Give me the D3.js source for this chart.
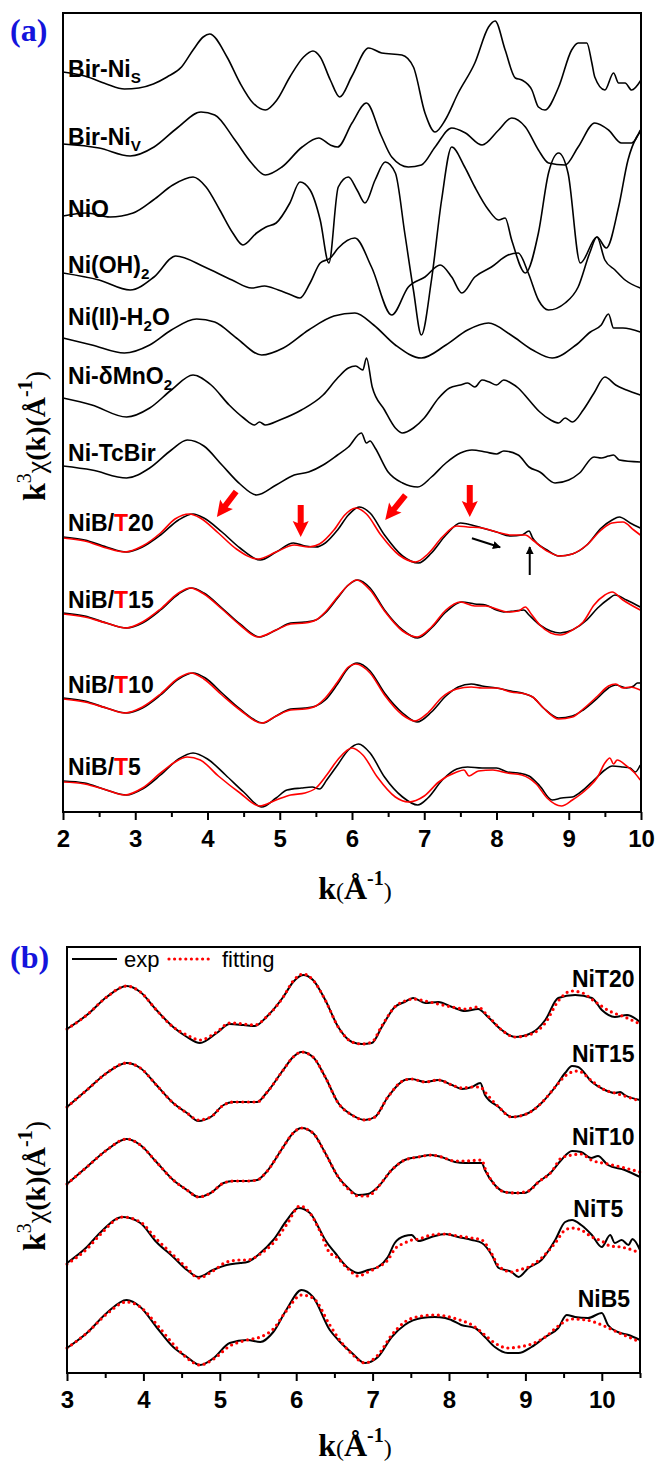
<!DOCTYPE html>
<html>
<head>
<meta charset="utf-8">
<script src="https://cdn.jsdelivr.net/npm/d3@7"></script>
<style>
  body { margin: 0; background: #fff; }
</style>
</head>
<body>
<svg id="chart" width="655" height="1464"></svg>
<script>
// ---- panel (a) data: k (1/A) and k3chi relative to each curve's offset ----
const kTicksA = [2, 3, 4, 5, 6, 7, 8, 9, 10];
const kMinorA = [2.5, 3.5, 4.5, 5.5, 6.5, 7.5, 8.5, 9.5];

const namesA = [
  [["Bir-Ni"], ["S", "sub"]],
  [["Bir-Ni"], ["V", "sub"]],
  [["NiO"]],
  [["Ni(OH)"], ["2", "sub"]],
  [["Ni(II)-H"], ["2", "sub"], ["O"]],
  [["Ni-δMnO"], ["2", "sub"]],
  [["Ni-TcBir"]],
  [["NiB/"], ["T", "red"], ["20"]],
  [["NiB/"], ["T", "red"], ["15"]],
  [["NiB/"], ["T", "red"], ["10"]],
  [["NiB/"], ["T", "red"], ["5"]]
];
const offsetsA = [74.0, 66.8, 59.6, 53.9, 47.4, 41.4, 34.6, 27.5, 19.9, 11.4, 3.1];
const labelLiftA = [-0.5, -0.1, -0.1, 0, 1.3, 1.4, 0.5, 0.6, 0.5, 0.5, 0.6];

const birNiS = [[2.00,0],[2.30,-0.4],[2.60,-1.2],[2.85,-1.7],[3.05,-1.6],[3.25,-1.2],[3.44,-0.5],[3.64,0.5],[3.80,2.2],[3.94,3.5],[4.03,3.8],[4.27,1.5],[4.45,-1.1],[4.63,-3.1],[4.80,-3.8],[4.96,-2.8],[5.14,-0.5],[5.33,1.5],[5.46,2.1],[5.56,1.5],[5.70,-0.8],[5.83,-2.5],[6.00,-0.4],[6.23,2.4],[6.41,1.9],[6.69,1.7],[6.85,0.5],[7.01,-4.1],[7.15,-6.0],[7.29,-4.8],[7.47,-2.1],[7.70,0.9],[7.89,4.5],[7.98,5.1],[8.12,2.2],[8.26,-0.6],[8.35,-0.8],[8.49,-1.8],[8.58,-3.5],[8.67,-3.8],[8.86,-1.5],[9.04,2.2],[9.13,2.9],[9.25,2.9],[9.32,0.9],[9.36,-0.5],[9.50,-1.8],[9.62,-0.1],[9.69,-1.1],[9.78,-1.1],[9.87,-1.8],[10.0,-0.8]];
const birNiV = [[2.00,0],[2.50,-0.4],[2.93,-1.2],[3.26,-0.3],[3.58,1.6],[3.91,3.2],[4.10,2.9],[4.38,0.4],[4.61,-1.9],[4.80,-3.1],[5.03,-2.3],[5.31,-0.3],[5.54,0.6],[5.70,-0.1],[5.80,-0.3],[6.00,2.1],[6.20,4.1],[6.40,0.9],[6.55,-1.3],[6.78,-2.3],[6.96,-2.1],[7.15,-0.3],[7.38,1.6],[7.57,1.1],[7.80,-0.1],[8.03,1.4],[8.21,2.6],[8.40,1.7],[8.58,-0.6],[8.72,-1.9],[8.95,-2.1],[9.13,-0.3],[9.36,2.1],[9.55,1.4],[9.73,0.1],[9.87,0.1],[9.99,1.4]];
const niO = [[2.00,0],[2.32,0.3],[2.65,-0.1],[2.97,0.3],[3.25,1.6],[3.52,3.1],[3.80,3.9],[3.98,2.9],[4.17,0.6],[4.35,-1.7],[4.49,-2.9],[4.68,-1.7],[4.81,-1.1],[4.95,-0.7],[5.14,1.3],[5.28,3.4],[5.42,2.6],[5.56,-0.4],[5.68,-4.7],[5.81,2.9],[5.95,3.9],[6.07,2.6],[6.18,1.3],[6.32,3.6],[6.46,5.4],[6.60,4.3],[6.73,-1.7],[6.85,-7.4],[6.96,-11.9],[7.10,-6.4],[7.24,1.6],[7.38,6.9],[7.56,4.9],[7.70,2.9],[7.89,0.6],[8.03,-0.4],[8.12,-0.2],[8.21,-2.4],[8.40,-5.7],[8.58,-1.7],[8.72,4.3],[8.86,6.3],[8.99,4.3],[9.16,-4.7],[9.39,-2.1],[9.52,-3.2],[9.69,0.9],[9.82,5.6],[9.94,7.9],[9.99,8.4]];
const niOH2 = [[2.00,0],[2.50,-0.7],[2.93,-1.7],[3.26,-0.4],[3.56,1.7],[3.96,0.6],[4.34,-0.7],[4.61,-1.5],[4.79,-1.3],[4.98,-1.7],[5.16,-2.2],[5.28,-2.5],[5.42,-1.0],[5.56,1.0],[5.70,1.5],[5.81,2.5],[6.04,3.5],[6.27,0.6],[6.55,-4.2],[6.78,-1.4],[7.01,-0.4],[7.22,0.8],[7.38,-0.4],[7.52,-2.0],[7.70,-0.4],[7.93,0.6],[8.16,1.8],[8.30,2.0],[8.44,0],[8.58,-2.7],[8.72,-3.7],[8.95,-3.0],[9.13,-1.4],[9.29,2.0],[9.39,3.6],[9.50,1.3],[9.64,0.3],[9.78,-0.7],[9.99,-1.5]];
const niH2O = [[2.00,0],[2.40,-0.7],[2.85,-1.5],[3.20,-0.7],[3.50,0.8],[3.85,1.9],[4.10,1.6],[4.40,0],[4.75,-1.7],[5.05,-1.0],[5.40,0.8],[5.75,2.2],[6.04,2.5],[6.30,1.3],[6.60,-0.7],[6.96,-2.0],[7.30,-0.7],[7.60,0.8],[7.89,1.5],[8.20,0.3],[8.50,-1.2],[8.77,-2.0],[9.10,-0.7],[9.30,0.6],[9.45,1.3],[9.55,2.4],[9.62,1.0],[9.75,1.0],[9.99,0.6]];
const niMnO2 = [[2.00,0],[2.40,-0.7],[2.88,-1.9],[3.20,-1.0],[3.50,0.8],[3.80,2.3],[4.05,1.3],[4.30,-0.7],[4.50,-2.0],[4.65,-2.7],[4.72,-2.4],[4.80,-2.7],[5.00,-2.2],[5.30,-1.2],[5.60,0.3],[5.80,2.0],[5.95,3.0],[6.05,3.2],[6.15,2.8],[6.20,4.0],[6.28,1.1],[6.45,-1.2],[6.60,-3.0],[6.70,-3.5],[6.85,-3.0],[7.00,-2.0],[7.20,0],[7.35,1.0],[7.50,1.3],[7.60,1.5],[7.70,1.1],[7.80,1.8],[7.90,1.6],[8.00,1.3],[8.10,1.8],[8.20,1.5],[8.30,1.0],[8.45,-0.2],[8.60,-1.4],[8.75,-2.2],[8.86,-2.5],[8.95,-2.0],[9.05,-2.4],[9.20,-1.2],[9.35,0.5],[9.50,2.1],[9.65,1.3],[9.80,0.8],[9.99,0.3]];
const niTcBir = [[2.00,0],[2.40,-0.4],[2.88,-1.2],[3.20,-0.2],[3.50,1.6],[3.72,2.6],[3.95,2.0],[4.20,0.1],[4.45,-1.8],[4.68,-2.9],[4.95,-1.9],[5.20,-0.9],[5.40,-0.6],[5.60,0.1],[5.80,1.1],[5.95,1.9],[6.13,3.3],[6.20,2.3],[6.25,2.5],[6.32,1.8],[6.50,-0.6],[6.70,-1.7],[6.91,-2.1],[7.10,-1.1],[7.30,0.3],[7.50,1.3],[7.66,1.6],[7.85,1.4],[8.00,1.2],[8.10,1.5],[8.30,1.1],[8.45,-0.1],[8.60,-0.6],[8.81,-1.7],[9.00,-1.4],[9.15,-0.7],[9.35,0.9],[9.45,0.8],[9.55,1.0],[9.62,1.1],[9.70,0.6],[9.99,0.4]];
const nibT20 = [[2.0,0],[2.3,-0.3],[2.6,-1.0],[2.88,-1.5],[3.1,-1.0],[3.35,0.2],[3.6,1.7],[3.8,2.3],[3.95,1.9],[4.2,0.5],[4.45,-1.1],[4.73,-2.3],[4.95,-1.5],[5.19,-0.6],[5.35,-0.9],[5.5,-1.0],[5.63,-0.6],[5.8,0.7],[5.95,2.2],[6.1,3.0],[6.25,2.4],[6.45,0.2],[6.7,-1.9],[6.92,-2.6],[7.1,-1.6],[7.3,0.2],[7.5,1.4],[7.6,1.3],[7.8,0.9],[8.0,0.5],[8.2,0.1],[8.35,0.2],[8.45,0.6],[8.5,-0.1],[8.7,-1.3],[8.86,-1.9],[9.05,-1.7],[9.25,-0.8],[9.45,0.9],[9.6,1.7],[9.7,2.0],[9.85,1.4],[9.99,0.9]];
const fitT20 = [[2.0,-0.1],[2.3,-0.4],[2.6,-1.1],[2.85,-1.5],[3.1,-0.9],[3.35,0.4],[3.55,1.8],[3.75,2.3],[3.9,1.9],[4.15,0.4],[4.4,-1.2],[4.7,-2.2],[4.95,-1.5],[5.2,-0.8],[5.4,-1.0],[5.55,-0.7],[5.75,0.7],[5.9,2.2],[6.05,2.9],[6.2,2.3],[6.4,0.2],[6.65,-1.8],[6.88,-2.5],[7.05,-1.7],[7.25,0],[7.45,1.1],[7.6,1.0],[7.8,0.9],[8.0,0.5],[8.2,0.2],[8.4,0.2],[8.5,-0.3],[8.7,-1.4],[8.88,-1.9],[9.05,-1.7],[9.25,-0.8],[9.45,0.7],[9.6,1.4],[9.75,1.5],[9.9,0.7],[9.99,0.2]];
const nibT15 = [[2.0,0],[2.3,-0.3],[2.6,-1.0],[2.88,-1.5],[3.1,-1.0],[3.35,0.3],[3.6,1.9],[3.78,2.5],[3.95,2.0],[4.2,0.5],[4.45,-1.1],[4.72,-2.4],[4.95,-1.7],[5.15,-1.0],[5.35,-0.9],[5.5,-0.7],[5.63,0],[5.8,1.5],[5.95,2.8],[6.08,3.3],[6.25,2.5],[6.45,0.3],[6.7,-1.7],[6.91,-2.5],[7.1,-1.5],[7.3,0.1],[7.52,1.1],[7.7,0.9],[7.85,0.8],[8.0,0.3],[8.1,0.1],[8.25,0.2],[8.38,0.3],[8.45,-0.2],[8.6,-1.2],[8.75,-1.8],[8.88,-2.0],[9.05,-1.7],[9.25,-0.7],[9.4,0.5],[9.55,1.4],[9.64,1.8],[9.8,1.3],[9.99,0.6]];
const fitT15 = [[2.0,-0.1],[2.3,-0.4],[2.6,-1.0],[2.87,-1.5],[3.1,-0.9],[3.35,0.4],[3.6,2.0],[3.76,2.5],[3.95,1.9],[4.2,0.4],[4.45,-1.2],[4.7,-2.4],[4.95,-1.7],[5.15,-1.1],[5.35,-1.0],[5.5,-0.7],[5.63,0.1],[5.8,1.6],[5.95,2.8],[6.06,3.3],[6.25,2.3],[6.45,0.2],[6.7,-1.8],[6.9,-2.4],[7.1,-1.4],[7.3,0.3],[7.5,1.1],[7.7,0.7],[7.85,0.7],[8.0,0.4],[8.15,0.1],[8.3,0.2],[8.4,0.6],[8.48,-0.1],[8.6,-1.2],[8.75,-2.0],[8.88,-2.2],[9.05,-1.7],[9.2,-0.9],[9.35,0.8],[9.5,1.8],[9.6,2.1],[9.75,1.3],[9.99,0.3]];
const nibT10 = [[2.0,0],[2.3,-0.3],[2.6,-1.0],[2.88,-1.5],[3.1,-1.0],[3.35,0.3],[3.6,1.9],[3.8,2.5],[3.97,2.0],[4.2,0.5],[4.45,-1.1],[4.77,-2.5],[4.95,-1.8],[5.15,-1.1],[5.35,-1.0],[5.5,-0.8],[5.63,-0.2],[5.8,1.4],[5.95,3.0],[6.07,3.5],[6.25,2.7],[6.45,0.5],[6.7,-1.5],[6.9,-2.4],[7.1,-1.4],[7.3,0.2],[7.47,1.1],[7.65,1.4],[7.8,1.2],[8.0,1.0],[8.2,0.7],[8.4,0.4],[8.5,0.1],[8.65,-1.0],[8.86,-2.0],[9.05,-1.8],[9.2,-1.2],[9.4,0],[9.55,1.0],[9.65,1.3],[9.8,1.0],[9.9,1.2],[9.95,1.5],[9.99,1.5]];
const fitT10 = [[2.0,-0.1],[2.3,-0.4],[2.6,-1.0],[2.85,-1.5],[3.1,-0.9],[3.35,0.4],[3.6,2.0],[3.77,2.5],[3.95,1.9],[4.2,0.3],[4.45,-1.2],[4.75,-2.5],[4.95,-1.8],[5.15,-1.2],[5.35,-1.1],[5.5,-0.8],[5.63,0],[5.8,1.6],[5.95,3.1],[6.05,3.4],[6.25,2.5],[6.45,0.3],[6.7,-1.7],[6.87,-2.3],[7.05,-1.5],[7.25,0.1],[7.45,0.9],[7.65,1.1],[7.8,1.0],[8.0,1.0],[8.2,0.6],[8.4,0.4],[8.5,0.1],[8.65,-1.0],[8.86,-2.1],[9.05,-1.9],[9.2,-1.1],[9.4,0.2],[9.55,1.2],[9.65,1.4],[9.75,1.0],[9.85,1.1],[9.99,0.8]];
const nibT5 = [[2.0,0],[2.3,-0.2],[2.6,-0.9],[2.88,-1.4],[3.1,-0.8],[3.35,0.6],[3.6,2.2],[3.8,2.8],[4.0,2.2],[4.25,0.6],[4.5,-1.1],[4.75,-2.6],[4.95,-1.7],[5.1,-0.9],[5.3,-0.7],[5.45,-0.6],[5.55,-0.8],[5.65,0.1],[5.8,1.6],[5.95,3.1],[6.09,3.7],[6.25,2.8],[6.45,0.4],[6.7,-1.6],[6.91,-2.4],[7.05,-1.7],[7.25,0.1],[7.45,1.2],[7.6,1.4],[7.8,1.3],[8.0,1.3],[8.15,0.9],[8.3,0.8],[8.45,0.5],[8.6,-0.5],[8.77,-1.9],[8.9,-1.7],[9.05,-1.6],[9.2,-0.9],[9.35,0.1],[9.5,1.1],[9.6,1.5],[9.75,1.4],[9.85,1.3],[9.92,0.9],[9.99,1.6]];
const fitT5 = [[2.0,-0.1],[2.3,-0.3],[2.6,-0.9],[2.85,-1.4],[3.1,-0.7],[3.35,0.8],[3.55,1.9],[3.72,2.4],[3.9,2.1],[4.15,0.5],[4.45,-1.2],[4.72,-2.5],[4.95,-1.9],[5.15,-1.4],[5.35,-1.2],[5.5,-0.7],[5.65,0.6],[5.8,2.1],[6.0,3.3],[6.15,2.6],[6.35,0.4],[6.6,-1.6],[6.78,-2.1],[7.0,-1.5],[7.2,-0.1],[7.45,0.9],[7.55,1.1],[7.62,0.5],[7.75,1.0],[7.95,1.1],[8.15,0.8],[8.35,0.6],[8.55,-0.3],[8.7,-1.7],[8.9,-2.5],[9.05,-1.9],[9.25,-0.8],[9.4,0.4],[9.5,1.8],[9.57,2.3],[9.62,1.7],[9.67,2.1],[9.8,1.5],[9.9,0.9],[9.99,0.1]];

const seriesA = [birNiS, birNiV, niO, niOH2, niH2O, niMnO2, niTcBir, nibT20, nibT15, nibT10, nibT5];
const fitsA = [null, null, null, null, null, null, null, fitT20, fitT15, fitT10, fitT5];

// annotation arrows on NiB/T20: tip [k, value], pointing angle (deg)
const redArrows = [[4.13, 29.5, 127], [5.29, 27.5, 90], [6.46, 29.2, 129], [7.63, 29.5, 90]];
const blackArrows = [[7.66, 27.37, 8.05, 26.47], [8.46, 23.7, 8.46, 26.5]];

// ---- panel (b) data ----
const kTicksB = [3, 4, 5, 6, 7, 8, 9, 10];
const kMinorB = [3.5, 4.5, 5.5, 6.5, 7.5, 8.5, 9.5, 10.5];
const namesB = ["NiT20", "NiT15", "NiT10", "NiT5", "NiB5"];
const offsetsB = [34.4, 26.6, 18.9, 11.0, 2.5];
const labelAtB = [[10.43, 38.6], [10.43, 31.1], [10.43, 22.8], [10.28, 15.6], [10.37, 6.6]];

const expT20 = [[3.0,0],[3.26,1.4],[3.52,3.2],[3.78,4.3],[3.96,3.7],[4.17,1.9],[4.39,0.2],[4.57,-0.8],[4.74,-1.4],[4.96,-0.4],[5.13,0.5],[5.31,0.4],[5.46,0.3],[5.61,1.2],[5.83,3.2],[5.96,4.7],[6.09,5.4],[6.22,4.9],[6.38,2.9],[6.55,0.2],[6.73,-1.3],[6.86,-1.5],[6.99,-1.4],[7.12,0.2],[7.29,2.2],[7.42,2.7],[7.53,3.1],[7.69,2.6],[7.86,2.7],[8.04,2.2],[8.21,1.8],[8.38,2.0],[8.51,1.2],[8.69,-0.1],[8.86,-0.8],[9.08,-0.4],[9.26,0.9],[9.43,3.1],[9.65,3.4],[9.87,3.1],[10.0,1.9],[10.17,1.2],[10.33,1.4],[10.5,0.7]];
const fitNiT20 = [[3.0,0],[3.26,1.4],[3.52,3.2],[3.78,4.3],[3.96,3.7],[4.17,1.9],[4.39,0.2],[4.57,-0.6],[4.74,-1.1],[4.96,-0.3],[5.13,0.6],[5.31,0.5],[5.46,0.4],[5.61,1.2],[5.83,3.2],[5.96,4.8],[6.09,5.5],[6.22,4.9],[6.38,2.9],[6.55,0.2],[6.73,-1.3],[6.86,-1.5],[6.99,-1.3],[7.12,0.3],[7.29,2.2],[7.42,2.8],[7.53,3.0],[7.69,2.8],[7.86,2.5],[8.04,2.2],[8.21,2.0],[8.38,2.2],[8.51,1.3],[8.69,-0.1],[8.86,-0.8],[9.08,-0.5],[9.26,0.6],[9.43,2.8],[9.6,3.8],[9.75,3.6],[9.9,2.8],[10.1,1.8],[10.3,1.2],[10.5,0.5]];
const expT15 = [[3.0,0],[3.26,1.7],[3.52,3.4],[3.78,4.4],[3.96,3.9],[4.17,2.2],[4.39,0.4],[4.57,-0.6],[4.72,-1.4],[4.88,-1.0],[5.05,0.2],[5.18,0.5],[5.36,0.5],[5.49,0.5],[5.61,1.4],[5.83,3.7],[5.96,5.0],[6.07,5.5],[6.22,5.0],[6.38,3.0],[6.55,0.4],[6.73,-0.8],[6.9,-1.3],[7.03,-1.0],[7.2,1.0],[7.42,2.7],[7.51,2.8],[7.69,2.5],[7.86,2.7],[8.04,2.2],[8.17,1.8],[8.30,2.0],[8.41,2.4],[8.47,1.2],[8.65,0],[8.82,-1.0],[9.04,-0.6],[9.21,0.4],[9.39,2.0],[9.52,3.4],[9.61,4.1],[9.69,4.0],[9.87,2.5],[10.04,1.7],[10.17,1.4],[10.24,1.5],[10.3,1.2],[10.5,0.7]];
const fitNiT15 = [[3.0,0],[3.26,1.7],[3.52,3.4],[3.78,4.4],[3.96,3.9],[4.17,2.2],[4.39,0.4],[4.57,-0.6],[4.72,-1.3],[4.88,-1.0],[5.05,0.2],[5.18,0.5],[5.36,0.5],[5.49,0.5],[5.61,1.4],[5.83,3.7],[5.96,5.0],[6.07,5.5],[6.22,5.0],[6.38,3.0],[6.55,0.4],[6.73,-0.8],[6.9,-1.3],[7.03,-1.0],[7.2,1.0],[7.42,2.7],[7.51,2.8],[7.69,2.5],[7.86,2.7],[8.04,2.2],[8.17,1.9],[8.30,2.0],[8.41,2.0],[8.47,1.5],[8.65,0],[8.82,-1.0],[9.04,-0.6],[9.21,0.4],[9.39,2.0],[9.52,3.1],[9.61,3.5],[9.69,3.6],[9.87,2.6],[10.04,1.7],[10.17,1.4],[10.3,1.1],[10.5,0.6]];
const expT10 = [[3.0,0],[3.26,1.7],[3.52,3.4],[3.78,4.5],[3.96,3.9],[4.17,2.2],[4.39,0.4],[4.57,-0.6],[4.72,-1.3],[4.88,-0.9],[5.05,0.1],[5.18,0.3],[5.36,0.3],[5.49,0.4],[5.61,1.2],[5.83,3.7],[5.96,5.1],[6.07,5.6],[6.22,5.1],[6.38,3.1],[6.55,0.7],[6.68,-0.4],[6.81,-1.1],[6.94,-1.0],[7.07,-0.3],[7.25,1.4],[7.42,2.4],[7.6,2.7],[7.77,2.9],[7.9,2.7],[8.08,2.2],[8.21,2.1],[8.43,2.1],[8.47,1.4],[8.6,-0.1],[8.73,-0.8],[8.86,-0.9],[8.99,-0.9],[9.17,0.2],[9.34,1.2],[9.47,2.4],[9.61,3.3],[9.73,3.2],[9.86,2.6],[9.95,2.8],[10.08,1.9],[10.3,1.4],[10.5,0.7]];
const fitNiT10 = [[3.0,0],[3.26,1.7],[3.52,3.4],[3.78,4.5],[3.96,3.9],[4.17,2.2],[4.39,0.4],[4.57,-0.6],[4.72,-1.3],[4.88,-0.9],[5.05,0.1],[5.18,0.3],[5.36,0.3],[5.49,0.4],[5.61,1.2],[5.83,3.7],[5.96,5.1],[6.07,5.6],[6.22,5.1],[6.38,3.1],[6.55,0.7],[6.68,-0.5],[6.81,-1.2],[6.94,-1.2],[7.07,-0.3],[7.25,1.4],[7.42,2.4],[7.6,2.7],[7.77,2.9],[7.9,2.7],[8.08,2.3],[8.21,2.3],[8.43,2.4],[8.47,1.6],[8.6,-0.1],[8.73,-0.8],[8.86,-0.9],[9.04,-0.7],[9.17,0.2],[9.34,1.2],[9.47,2.6],[9.61,2.9],[9.73,3.0],[9.86,2.4],[10.08,2.0],[10.3,1.6],[10.5,1.2]];
const expT5 = [[3.0,0],[3.26,1.6],[3.43,3.0],[3.73,4.6],[3.96,4.0],[4.17,2.1],[4.39,0.6],[4.57,-0.7],[4.72,-1.4],[4.91,-0.7],[5.09,-0.2],[5.27,0],[5.36,0.1],[5.53,1.0],[5.7,2.3],[5.88,4.3],[6.03,5.5],[6.18,5.0],[6.31,3.3],[6.38,2.3],[6.51,1.0],[6.68,-0.5],[6.81,-1.0],[6.94,-0.7],[7.07,-0.4],[7.2,0.6],[7.29,2.0],[7.42,2.7],[7.51,2.8],[7.6,2.2],[7.77,2.6],[7.95,2.9],[8.12,2.6],[8.3,2.3],[8.43,2.0],[8.56,0.8],[8.65,-0.5],[8.82,-0.9],[8.91,-1.4],[9.04,-0.5],[9.21,0.3],[9.39,2.3],[9.52,4.1],[9.61,4.3],[9.73,3.8],[9.87,2.8],[10.0,1.6],[10.11,2.8],[10.17,2.0],[10.26,2.3],[10.35,1.8],[10.4,2.4],[10.5,1.3]];
const fitNiT5 = [[3.0,-0.1],[3.26,1.4],[3.43,2.8],[3.73,4.6],[3.96,4.1],[4.17,2.4],[4.39,0.8],[4.57,-0.5],[4.72,-1.5],[4.91,-0.8],[5.09,0.1],[5.27,0.3],[5.36,0.3],[5.53,0.9],[5.7,2.0],[5.88,3.9],[6.05,5.7],[6.18,5.0],[6.31,3.2],[6.44,1.0],[6.51,0.7],[6.68,-0.6],[6.81,-1.3],[6.94,-0.9],[7.07,-0.4],[7.2,0.3],[7.29,1.4],[7.42,2.0],[7.51,2.3],[7.6,2.4],[7.77,2.8],[7.95,2.9],[8.12,2.7],[8.3,2.5],[8.43,2.3],[8.56,0.9],[8.65,-0.3],[8.82,-0.9],[8.91,-0.7],[9.04,-0.4],[9.21,0.5],[9.39,2.0],[9.52,3.3],[9.61,3.5],[9.73,3.3],[9.87,2.6],[10.0,2.2],[10.11,1.7],[10.25,1.6],[10.4,1.3],[10.5,1.0]];
const expB5 = [[3.0,0],[3.26,1.5],[3.52,3.5],[3.78,4.8],[3.96,4.1],[4.17,2.1],[4.39,0.1],[4.57,-0.9],[4.74,-1.7],[4.92,-1.0],[5.13,0.5],[5.36,0.8],[5.53,0.6],[5.7,1.6],[5.87,3.8],[6.07,5.8],[6.22,5.1],[6.44,1.8],[6.55,0.8],[6.73,-0.5],[6.9,-1.5],[7.07,-0.9],[7.25,1.1],[7.42,2.3],[7.64,3.0],[7.81,3.1],[7.95,3.0],[8.03,2.8],[8.16,2.3],[8.34,2.0],[8.47,1.1],[8.6,0.1],[8.77,-0.5],[8.91,-0.5],[9.08,0.1],[9.26,1.1],[9.43,2.0],[9.54,3.3],[9.65,3.1],[9.82,3.0],[10.0,3.5],[10.08,2.3],[10.21,1.6],[10.35,1.3],[10.5,0.8]];
const fitNiB5 = [[3.0,0],[3.26,1.5],[3.52,3.4],[3.78,4.6],[3.96,4.1],[4.17,2.4],[4.39,0.4],[4.57,-1.0],[4.74,-1.7],[4.92,-1.1],[5.13,0.2],[5.36,0.8],[5.53,1.1],[5.7,1.9],[5.87,3.7],[6.07,5.3],[6.22,5.0],[6.44,2.3],[6.55,1.0],[6.73,-0.6],[6.9,-1.5],[7.07,-0.7],[7.25,1.3],[7.42,2.6],[7.64,3.2],[7.81,3.3],[7.95,3.2],[8.1,2.9],[8.3,2.3],[8.47,1.3],[8.6,0.5],[8.77,0],[8.91,0.1],[9.08,0.4],[9.26,1.1],[9.43,2.2],[9.6,2.9],[9.8,2.8],[10.0,2.3],[10.2,1.6],[10.35,1.1],[10.5,0.6]];

const seriesB = [expT20, expT15, expT10, expT5, expB5];
const fitsB = [fitNiT20, fitNiT15, fitNiT10, fitNiT5, fitNiB5];

// ---- drawing ----
const SANS = "'Liberation Sans', Arial, Helvetica, sans-serif";
const SERIF = "'Liberation Serif', 'Times New Roman', Times, serif";
const svg = d3.select("#chart");

// writes text made of parts: normal, subscript, superscript, red
function addParts(text, parts, size) {
  let shift = 0;
  parts.forEach(([s, kind]) => {
    const t = text.append("tspan").text(s);
    if (kind === "sub") {
      t.attr("font-size", size * 0.66).attr("dy", 6 - shift);
      shift = 6;
    } else {
      if (shift) t.attr("dy", -shift);
      shift = 0;
      if (kind === "red") t.attr("fill", "#ff0000");
    }
  });
}

function drawAxis(x, y, major, minor) {
  const y0 = y.range()[0];
  const g = svg.append("g").attr("transform", `translate(0,${y0})`)
    .call(d3.axisBottom(x).tickValues(major).tickSize(8).tickPadding(10).tickFormat(d3.format("d")));
  g.select(".domain").remove();
  g.selectAll(".tick line").attr("stroke-width", 2);
  g.selectAll(".tick text")
    .attr("font-family", SANS).attr("font-weight", "bold").attr("font-size", 24).attr("fill", "#000");
  const gm = svg.append("g").attr("transform", `translate(0,${y0})`)
    .call(d3.axisBottom(x).tickValues(minor).tickSize(5).tickFormat(""));
  gm.select(".domain").remove();
  gm.selectAll(".tick line").attr("stroke-width", 2);

  // frame
  svg.append("rect")
    .attr("x", x.range()[0]).attr("y", y.range()[1])
    .attr("width", x.range()[1] - x.range()[0])
    .attr("height", y.range()[0] - y.range()[1])
    .attr("fill", "none").attr("stroke", "#000").attr("stroke-width", 2);
}

function axisTitles(cx, baseX, cy, baseY, tag, tagY) {
  // x title  k(Å-1)
  const tx = svg.append("text").attr("x", cx).attr("y", baseX)
    .attr("text-anchor", "middle").attr("font-family", SERIF).attr("font-weight", "bold");
  tx.append("tspan").attr("font-size", 32).text("k");
  tx.append("tspan").attr("font-size", 24).attr("font-weight", "normal").text("(");
  tx.append("tspan").attr("font-size", 32).text("Å");
  tx.append("tspan").attr("font-size", 20).attr("dy", -14).text("-1");
  tx.append("tspan").attr("font-size", 24).attr("font-weight", "normal").attr("dy", 14).text(")");

  // y title  k3χ(k)(Å-1)
  const ty = svg.append("text")
    .attr("transform", `translate(${baseY},${cy}) rotate(-90)`)
    .attr("text-anchor", "middle").attr("font-family", SERIF).attr("font-weight", "bold");
  ty.append("tspan").attr("font-size", 32).text("k");
  ty.append("tspan").attr("font-size", 20).attr("font-weight", "normal").attr("dy", -14).text("3");
  ty.append("tspan").attr("font-size", 28).attr("font-weight", "normal").attr("dy", 14).text("χ");
  ty.append("tspan").attr("font-size", 28).text("(k)(Å");
  ty.append("tspan").attr("font-size", 20).attr("dy", -13).text("-1");
  ty.append("tspan").attr("font-size", 28).attr("font-weight", "normal").attr("dy", 13).text(")");

  svg.append("text").attr("x", 10).attr("y", tagY)
    .attr("font-family", SERIF).attr("font-weight", "bold").attr("font-size", 32)
    .attr("fill", "#1414dc").text(tag);
}

// ---------- panel (a) ----------
const xA = d3.scaleLinear().domain([2, 10]).range([63, 641]);
const yA = d3.scaleLinear().domain([0, 79.9]).range([812, 13]);

seriesA.forEach((s, i) => {
  const line = d3.line()
    .x(d => xA(d[0]))
    .y(d => yA(d[1] + offsetsA[i]))
    .curve(d3.curveMonotoneX);
  svg.append("path").datum(s).attr("d", line)
    .attr("fill", "none").attr("stroke", "#000").attr("stroke-width", 1.6);
  if (fitsA[i]) {
    svg.append("path").datum(fitsA[i]).attr("d", line)
      .attr("fill", "none").attr("stroke", "#ff0000").attr("stroke-width", 1.6);
  }
  const t = svg.append("text")
    .attr("x", xA(2.07)).attr("y", yA(offsetsA[i] + labelLiftA[i]))
    .attr("font-family", SANS).attr("font-weight", "bold").attr("font-size", 23);
  addParts(t, namesA[i], 23);
});

// red block arrows
redArrows.forEach(([k, v, ang]) => {
  svg.append("path")
    .attr("d", "M0,0 L-16,-8 L-14,-3 L-32,-3 L-32,3 L-14,3 L-16,8 Z")
    .attr("transform", `translate(${xA(k)},${yA(v)}) rotate(${ang})`)
    .attr("fill", "#ff0000");
});
// thin black arrows
svg.append("defs").append("marker")
  .attr("id", "ah").attr("viewBox", "0 -5 10 10").attr("refX", 9).attr("refY", 0)
  .attr("markerWidth", 4).attr("markerHeight", 4).attr("orient", "auto")
  .append("path").attr("d", "M0,-5L10,0L0,5Z").attr("fill", "#000");
blackArrows.forEach(([k1, v1, k2, v2]) => {
  svg.append("line")
    .attr("x1", xA(k1)).attr("y1", yA(v1)).attr("x2", xA(k2)).attr("y2", yA(v2))
    .attr("stroke", "#000").attr("stroke-width", 2).attr("marker-end", "url(#ah)");
});

drawAxis(xA, yA, kTicksA, kMinorA);
axisTitles(355, 899, 436, 45, "(a)", 41);

// ---------- panel (b) ----------
const xB = d3.scaleLinear().domain([3, 10.5]).range([67, 640]);
const yB = d3.scaleLinear().domain([0, 42.6]).range([1373, 947]);

seriesB.forEach((s, i) => {
  const line = d3.line()
    .x(d => xB(d[0]))
    .y(d => yB(d[1] + offsetsB[i]))
    .curve(d3.curveMonotoneX);
  svg.append("path").datum(s).attr("d", line)
    .attr("fill", "none").attr("stroke", "#000").attr("stroke-width", 2);
  svg.append("path").datum(fitsB[i]).attr("d", line)
    .attr("fill", "none").attr("stroke", "#ff0000").attr("stroke-width", 3.2)
    .attr("stroke-linecap", "round").attr("stroke-dasharray", "0,5.6");
  svg.append("text")
    .attr("x", xB(labelAtB[i][0])).attr("y", yB(labelAtB[i][1]))
    .attr("text-anchor", "end")
    .attr("font-family", SANS).attr("font-weight", "bold").attr("font-size", 23)
    .text(namesB[i]);
});

// legend
const legY = 959;
svg.append("line").attr("x1", 72).attr("x2", 117).attr("y1", legY).attr("y2", legY)
  .attr("stroke", "#000").attr("stroke-width", 2);
svg.append("text").attr("x", 124).attr("y", legY + 8)
  .attr("font-family", SANS).attr("font-size", 22).text("exp");
svg.append("line").attr("x1", 169).attr("x2", 212).attr("y1", legY).attr("y2", legY)
  .attr("stroke", "#ff0000").attr("stroke-width", 3.2)
  .attr("stroke-linecap", "round").attr("stroke-dasharray", "0,5.6");
svg.append("text").attr("x", 222).attr("y", legY + 8)
  .attr("font-family", SANS).attr("font-size", 22).text("fitting");

drawAxis(xB, yB, kTicksB, kMinorB);
axisTitles(355, 1456, 1186, 45, "(b)", 968);
</script>
</body>
</html>
